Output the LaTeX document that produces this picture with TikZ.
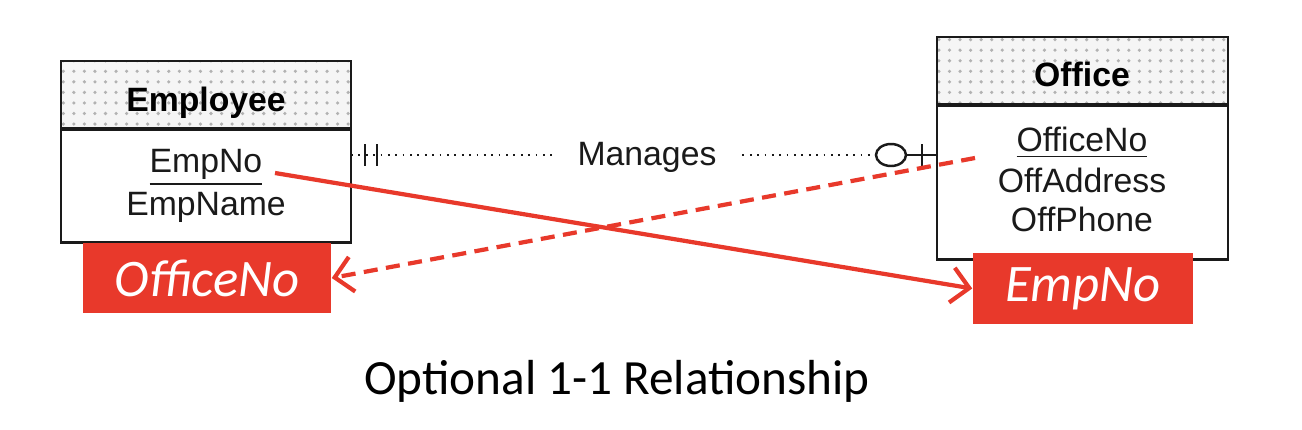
\documentclass[tikz,border=0pt]{standalone}
\usepackage{fontspec}
\setsansfont{Liberation Sans}
\newfontfamily\calibri{Carlito}
\usepackage{xcolor}
\usepackage{tikz}
\usetikzlibrary{arrows.meta,positioning,patterns}
\definecolor{keyred}{HTML}{E8392B}
\definecolor{inkgray}{HTML}{1A1A1A}
\tikzset{
  headbox/.style={draw=inkgray,line width=0.8pt,preaction={fill=gray!8},pattern=dots,pattern color=gray!60,inner sep=0pt},
  bodybox/.style={draw=inkgray,line width=0.8pt,fill=white,inner sep=0pt},
  headtext/.style={font=\sffamily\bfseries\fontsize{9.6}{11}\selectfont,text=black,inner sep=0pt,anchor=base},
  attr/.style={font=\sffamily\fontsize{9.6}{11}\selectfont,text=inkgray,inner sep=0pt,anchor=base},
  keybox/.style={fill=keyred,text=white,font=\calibri\itshape\fontsize{15}{18}\selectfont,inner sep=0pt},
  relline/.style={inkgray,line width=0.5pt,dash pattern=on 0.5pt off 1.6pt},
  relmark/.style={inkgray,line width=0.7pt},
  fkarrow/.style={keyred,line width=1.2pt,-{Straight Barb[length=5pt,width=10pt,line width=1.2pt]}},
  fkdashed/.style={fkarrow,dash pattern=on 4pt off 2.4pt}
}
\begin{document}
\begin{tikzpicture}[x=0.01cm,y=-0.01cm]
  \useasboundingbox (0,0) rectangle (1302,430);
  % entities
  \node[headbox,minimum width=2.9cm,minimum height=0.67cm] (emphead) at (206,94.5) {};
  \node[bodybox,minimum width=2.9cm,minimum height=1.13cm,below=-0.4pt of emphead] (empbody) {};
  \node[headtext] (emptitle) at (206,111) {Employee};
  \node[attr] (empno) at (206,172) {\underline{EmpNo}};
  \node[attr] (empname) at (206,215) {EmpName};

  \node[headbox,minimum width=2.91cm,minimum height=0.67cm] (offhead) at (1082.5,70.5) {};
  \node[bodybox,minimum width=2.91cm,minimum height=1.54cm,below=-0.4pt of offhead] (offbody) {};
  \node[headtext] (offtitle) at (1082,86) {Office};
  \node[attr] (offno) at (1082,151) {\underline{OfficeNo}};
  \node[attr] (offaddr) at (1082,192) {OffAddress};
  \node[attr] (offphone) at (1082,231) {OffPhone};

  % relationship
  \coordinate (relA) at (351,155);
  \coordinate (relB) at (937,155);
  \draw[relline] (relA) -- (875,155);
  \node[attr,anchor=center,fill=white,inner xsep=7pt,inner ysep=2pt] (manages) at (647,157) {Manages};
  \draw[relmark] (relA) ++(14,-11) -- ++(0,22) (relA) ++(26,-11) -- ++(0,22);
  \draw[relmark] (891,155) ellipse (15 and 11);
  \draw[relmark] (906,155) -- (relB) (relB) ++(-15,-11) -- ++(0,22);

  % foreign keys
  \node[keybox,minimum width=2.48cm,minimum height=0.7cm] (offkey) at (207,278) {OfficeNo};
  \node[keybox,minimum width=2.2cm,minimum height=0.71cm] (empkey) at (1083,288.5) {EmpNo};
  \coordinate (dashstart) at (975,158);
  \coordinate (solidstart) at (275,173);
  \draw[fkarrow] (solidstart) -- (empkey.west);
  \draw[fkdashed] (dashstart) -- (offkey.east);

  \node[font=\calibri\fontsize{14}{17}\selectfont] (caption) at (617,381) {Optional 1-1 Relationship};
\end{tikzpicture}
\end{document}
